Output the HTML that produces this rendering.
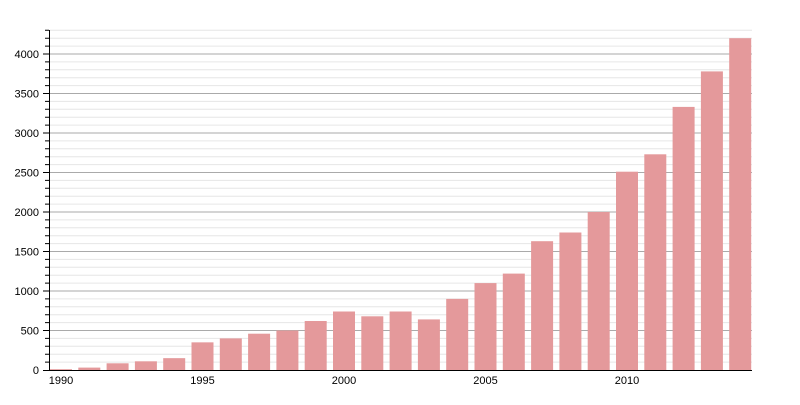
<!DOCTYPE html><html><head><style>body{margin:0;background:#fff}</style></head><body>
<svg width="800" height="400" xmlns="http://www.w3.org/2000/svg" font-family="Liberation Sans, sans-serif" font-size="11">
<path stroke="#e6e6e6" stroke-width="1" fill="none" d="M50 362.1H752M50 354.2H752M50 346.3H752M50 338.4H752M50 322.6H752M50 314.7H752M50 306.8H752M50 298.9H752M50 283.1H752M50 275.2H752M50 267.3H752M50 259.4H752M50 243.6H752M50 235.7H752M50 227.8H752M50 219.9H752M50 204.1H752M50 196.2H752M50 188.3H752M50 180.4H752M50 164.6H752M50 156.7H752M50 148.8H752M50 140.9H752M50 125.1H752M50 117.2H752M50 109.3H752M50 101.4H752M50 85.6H752M50 77.7H752M50 69.8H752M50 61.9H752M50 46.1H752M50 38.2H752M50 30.3H752"/>
<path stroke="#aaa" stroke-width="1" fill="none" d="M50 330.5H752M50 291H752M50 251.5H752M50 212H752M50 172.5H752M50 133H752M50 93.5H752M50 54H752"/>
<path stroke="#000" stroke-width="1" fill="none" d="M45 362.1H49M45 354.2H49M45 346.3H49M45 338.4H49M45 322.6H49M45 314.7H49M45 306.8H49M45 298.9H49M45 283.1H49M45 275.2H49M45 267.3H49M45 259.4H49M45 243.6H49M45 235.7H49M45 227.8H49M45 219.9H49M45 204.1H49M45 196.2H49M45 188.3H49M45 180.4H49M45 164.6H49M45 156.7H49M45 148.8H49M45 140.9H49M45 125.1H49M45 117.2H49M45 109.3H49M45 101.4H49M45 85.6H49M45 77.7H49M45 69.8H49M45 61.9H49M45 46.1H49M45 38.2H49M45 30.3H49M43 330.5H49M43 291H49M43 251.5H49M43 212H49M43 172.5H49M43 133H49M43 93.5H49M43 54H49"/>
<g fill="#e4999b">
<rect x="50" y="369.2" width="22" height="0.8"/>
<rect x="78.3" y="367.6" width="22" height="2.4"/>
<rect x="106.6" y="363.3" width="22" height="6.7"/>
<rect x="134.9" y="361.3" width="22" height="8.7"/>
<rect x="163.2" y="358.15" width="22" height="11.85"/>
<rect x="191.5" y="342.35" width="22" height="27.65"/>
<rect x="219.8" y="338.4" width="22" height="31.6"/>
<rect x="248.1" y="333.7" width="22" height="36.3"/>
<rect x="276.4" y="330.5" width="22" height="39.5"/>
<rect x="304.7" y="321" width="22" height="49"/>
<rect x="333" y="311.5" width="22" height="58.5"/>
<rect x="361.3" y="316.3" width="22" height="53.7"/>
<rect x="389.6" y="311.5" width="22" height="58.5"/>
<rect x="417.9" y="319.4" width="22" height="50.6"/>
<rect x="446.2" y="298.9" width="22" height="71.1"/>
<rect x="474.5" y="283.1" width="22" height="86.9"/>
<rect x="502.8" y="273.6" width="22" height="96.4"/>
<rect x="531.1" y="241.2" width="22" height="128.8"/>
<rect x="559.4" y="232.5" width="22" height="137.5"/>
<rect x="587.7" y="212" width="22" height="158"/>
<rect x="616" y="171.7" width="22" height="198.3"/>
<rect x="644.3" y="154.3" width="22" height="215.7"/>
<rect x="672.6" y="106.9" width="22" height="263.1"/>
<rect x="700.9" y="71.4" width="22" height="298.6"/>
<rect x="729.2" y="38.2" width="22" height="331.8"/>
</g>
<g text-anchor="end">
<text x="39" y="374">0</text><text x="39" y="334.5">500</text><text x="39" y="295">1000</text><text x="39" y="255.5">1500</text><text x="39" y="216">2000</text><text x="39" y="176.5">2500</text><text x="39" y="137">3000</text><text x="39" y="97.5">3500</text><text x="39" y="58">4000</text>
</g>
<g text-anchor="middle">
<text x="61" y="384">1990</text><text x="202.5" y="384">1995</text><text x="344" y="384">2000</text><text x="485.5" y="384">2005</text><text x="627" y="384">2010</text>
</g>
<path stroke="#000" stroke-width="1" fill="none" d="M49.5 30V371M43 370.5H752"/>
</svg></body></html>
